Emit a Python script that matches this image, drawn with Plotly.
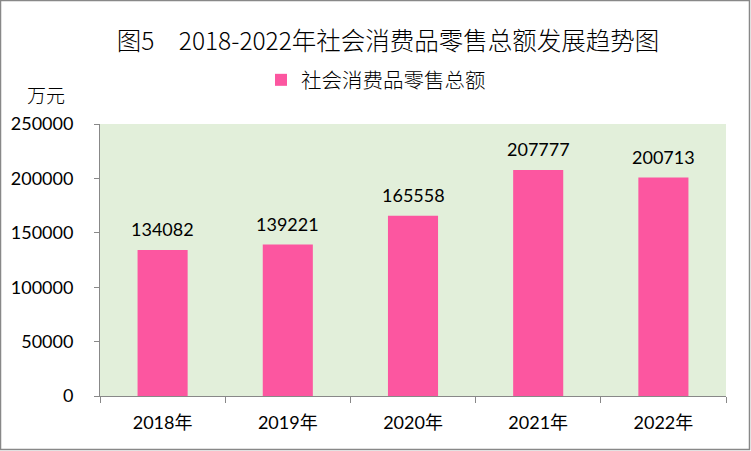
import plotly.graph_objects as go

categories = ["2018年", "2019年", "2020年", "2021年", "2022年"]
values = [134082, 139221, 165558, 207777, 200713]
series_name = "社会消费品零售总额"
title_text = "图5　2018-2022年社会消费品零售总额发展趋势图"
unit_text = "万元"

W, H = 751, 451
L, R, T, B = 100, 25, 124, 55
pw = W - L - R
ph = H - T - B
FONT = "Lato, Noto Sans CJK SC"
CJK = "Noto Sans CJK SC"

fig = go.Figure()
fig.add_trace(go.Bar(
    x=categories, y=values, name=series_name,
    marker=dict(color="#FC56A0", line=dict(width=0)),
    width=0.4, hoverinfo="skip",
))

annotations = [dict(x=c, y=v, xref="x", yref="y", text=str(v), showarrow=False,
                    yanchor="middle", xanchor="center", yshift=21,
                    font=dict(size=18, family=FONT, color="#000000"))
               for c, v in zip(categories, values)]
annotations.append(dict(text=unit_text, xref="paper", yref="paper",
                        x=-54 / pw, y=1 + (T - 95) / ph, xanchor="center", yanchor="middle",
                        showarrow=False, font=dict(family=CJK, size=19, weight=300)))

fig.update_layout(
    width=W, height=H,
    margin=dict(l=L, r=R, t=T, b=B),
    paper_bgcolor="white",
    plot_bgcolor="#E2EFDA",
    font=dict(family=FONT, size=16, color="#000000"),
    title=dict(text=title_text, x=388 / W, xanchor="center", y=1 - 41 / H, yanchor="middle",
               font=dict(family=CJK, size=24.5, color="#000000", weight=300)),
    showlegend=True,
    legend=dict(orientation="h", x=(376 - L) / pw, xanchor="center", y=1 + (T - 80) / ph,
                yanchor="middle",
                font=dict(family=CJK, size=20.5, weight=300), bgcolor="rgba(0,0,0,0)",
                itemwidth=30),
    xaxis=dict(showline=True, linecolor="#888888", linewidth=1, ticks="outside",
               tickson="boundaries", ticklen=6, tickcolor="#888888",
               tickfont=dict(size=18, family=FONT), showgrid=False, ticklabelstandoff=10),
    yaxis=dict(range=[0, 250000], dtick=50000, showline=True, linecolor="#888888",
               linewidth=1, ticks="outside", ticklen=5, tickcolor="#888888",
               showgrid=False, zeroline=False, tickformat="d",
               tickfont=dict(size=18, family=FONT), ticklabelstandoff=17),
    bargap=0.6,
    annotations=annotations,
    shapes=[dict(type="rect", xref="paper", yref="paper",
                 x0=-(L - 0.5) / pw, x1=(W - L - 1.5) / pw,
                 y0=-(B - 1.5) / ph, y1=1 + (T - 0.5) / ph,
                 line=dict(color="#888888", width=1.5), fillcolor="rgba(0,0,0,0)", layer="below")],
)

fig.write_html("out.html", config={"displayModeBar": False, "staticPlot": True},
               post_script="document.body.style.margin='0';document.body.style.overflow='hidden';")
